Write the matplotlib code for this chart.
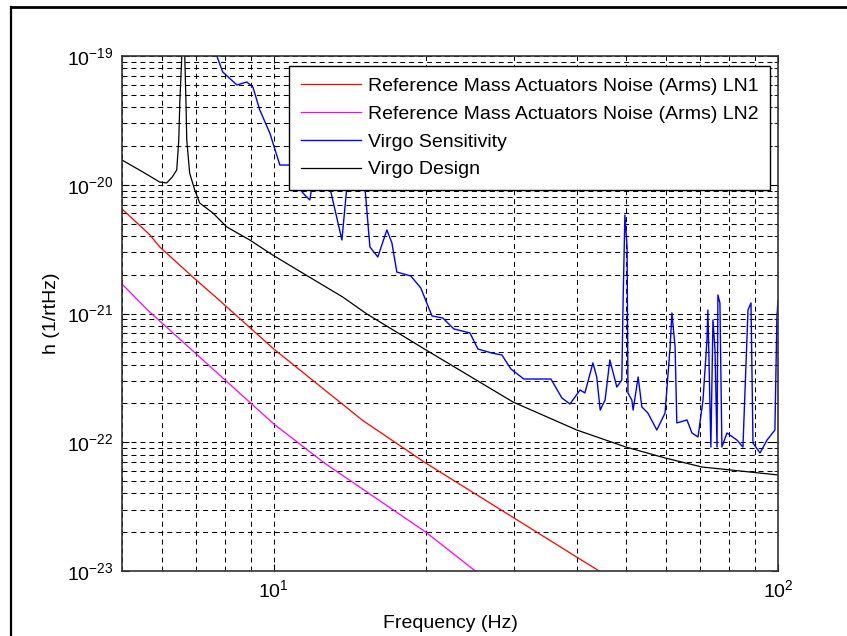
import matplotlib
matplotlib.use("Agg")
import matplotlib.pyplot as plt
import numpy as np
from matplotlib.lines import Line2D
from matplotlib.ticker import LogLocator, LogFormatterSciNotation, NullFormatter

plt.rcParams['font.family'] = ['Liberation Sans', 'DejaVu Sans']
plt.rcParams['mathtext.fontset'] = 'custom'
plt.rcParams['mathtext.rm'] = 'Liberation Sans'
plt.rcParams['mathtext.it'] = 'Liberation Sans:italic'
plt.rcParams['mathtext.bf'] = 'Liberation Sans:bold'

# --- data (frequency in Hz, log10 of h) ---
ln1_freq = [5.0, 5.68, 5.94, 6.91, 7.71, 10.0, 15.0, 20.0, 30.0, 40.0, 44.2, 50.0]
ln1_logh = [-20.188, -20.390, -20.483, -20.717, -20.880, -21.276, -21.83,
            -22.161, -22.59, -22.895, -23.0, -23.13]

ln2_freq = [5.0, 5.62, 10.0, 12.6, 20.0, 25.1, 28.0]
ln2_logh = [-20.771, -20.973, -21.858, -22.161, -22.697, -23.0, -23.15]

sens_freq = [7.60, 7.71, 7.92, 8.45, 8.84, 9.09, 9.38, 9.82, 10.28, 10.76,
             11.16, 11.52, 11.79, 11.90, 12.34, 12.91, 13.65, 13.96, 14.48,
             15.16, 15.51, 16.08, 16.76, 17.15, 17.54, 18.70, 19.57, 20.59,
             21.64, 22.76, 24.49, 25.40, 27.07, 28.34, 29.53, 31.33, 33.72,
             35.45, 37.27, 38.67, 40.5, 41.4, 42.95, 43.7, 44.4, 45.4, 46.4,
             47.9, 49.0, 49.3, 49.7, 50.2, 50.4, 51.3, 51.6, 52.8, 53.7, 55.2,
             57.5, 59.7, 61.1, 61.6, 62.5, 63.0, 66.0, 67.5, 69.4, 71.0, 72.3,
             72.6, 73.6, 74.3, 75.0, 75.7, 76.0, 76.7, 77.4, 79.2, 82.9, 85.2,
             87.2, 88.4, 89.2, 92.1, 95.1, 98.6, 99.5, 100.0]
sens_logh = [-18.915, -19.0, -19.124, -19.225, -19.202, -19.241, -19.419,
             -19.598, -19.847, -19.847, -20.017, -20.080, -20.118, -20.017,
             -19.70, -20.017, -20.429, -20.017, -19.60, -20.017, -20.483,
             -20.561, -20.351, -20.452, -20.678, -20.709, -20.802, -21.019,
             -21.035, -21.120, -21.151, -21.276, -21.307, -21.322, -21.431,
             -21.509, -21.509, -21.509, -21.656, -21.703, -21.594, -21.617,
             -21.384, -21.493, -21.750, -21.672, -21.361, -21.571, -21.517,
             -20.895, -20.235, -20.483, -21.617, -21.672, -21.750, -21.493,
             -21.726, -21.773, -21.905, -21.773, -21.260, -20.996, -21.260,
             -21.850, -21.827, -21.928, -21.959, -21.672, -21.206, -20.973,
             -22.037, -21.050, -21.283, -22.037, -20.856, -20.918, -22.037,
             -21.928, -21.983, -22.037, -20.973, -20.918, -22.006, -22.083,
             -21.983, -21.905, -21.027, -20.9]

design_freq = [5.0, 5.5, 5.94, 6.13, 6.29, 6.42, 6.48, 6.51, 6.57, 6.61, 6.66,
               6.70, 6.72, 6.81, 6.97, 7.13, 7.57, 8.07, 8.96, 9.95, 11.4,
               13.7, 15.3, 19.9, 29.8, 39.9, 49.9, 59.7, 70.6, 100.0]
design_logh = [-19.808, -19.901, -19.979, -19.986, -19.94, -19.885, -19.652,
               -19.365, -19.0, -18.5, -19.0, -19.4, -19.652, -19.909, -20.041,
               -20.142, -20.219, -20.328, -20.429, -20.546, -20.685, -20.872,
               -21.004, -21.276, -21.687, -21.905, -22.037, -22.122, -22.192,
               -22.254]

labels = ['Reference Mass Actuators Noise (Arms) LN1',
          'Reference Mass Actuators Noise (Arms) LN2',
          'Virgo Sensitivity',
          'Virgo Design']

fig = plt.figure(figsize=(8.47, 6.36), dpi=100)
ax = fig.add_axes([0.14404, 0.1022, 0.7745, 0.80975])

ax.loglog(ln1_freq, 10.0 ** np.array(ln1_logh), color='#ff0000', lw=0.9, label=labels[0])
ax.loglog(ln2_freq, 10.0 ** np.array(ln2_logh), color='#ff00ff', lw=0.9, label=labels[1])
ax.loglog(sens_freq, 10.0 ** np.array(sens_logh), color='#0000ff', lw=1.0, label=labels[2])
ax.loglog(design_freq, 10.0 ** np.array(design_logh), color='black', lw=0.9, label=labels[3])

ax.set_xlim(5, 100)
ax.set_ylim(1e-23, 1e-19)

ax.xaxis.set_major_locator(LogLocator(base=10))
ax.xaxis.set_minor_locator(LogLocator(base=10, subs=np.arange(2, 10)))
ax.yaxis.set_major_locator(LogLocator(base=10))
ax.yaxis.set_minor_locator(LogLocator(base=10, subs=np.arange(2, 10), numticks=20))
ax.xaxis.set_minor_formatter(NullFormatter())
ax.yaxis.set_minor_formatter(NullFormatter())
ax.xaxis.set_major_formatter(LogFormatterSciNotation())
ax.yaxis.set_major_formatter(LogFormatterSciNotation())

ax.tick_params(which='both', direction='in', top=True, right=True,
               labelsize=14, pad=6)
ax.tick_params(which='major', length=5)
ax.tick_params(which='minor', length=3)

ax.grid(True, which='both', color='black', lw=0.75, linestyle=(0, (4.8, 3.8)))

for sp in ax.spines.values():
    sp.set_linewidth(1.2)
    sp.set_color('#333333')

ax.set_xlabel('Frequency (Hz)', fontsize=14, labelpad=10)
ax.set_ylabel('h (1/rtHz)', fontsize=14, labelpad=5)

leg = ax.legend(loc='upper right', bbox_to_anchor=(0.9091, 0.8962),
                bbox_transform=fig.transFigure, borderaxespad=0,
                fontsize=14, fancybox=False, framealpha=1,
                handlelength=3.1, handletextpad=0.35, labelspacing=0.52,
                borderpad=0.6)
leg.get_frame().set_edgecolor('black')
leg.get_frame().set_linewidth(1.0)

# outer frame lines (top and left) seen in the reference
fig.add_artist(Line2D([0.013, 1.0], [0.989, 0.989], transform=fig.transFigure,
                      color='black', lw=2.0))
fig.add_artist(Line2D([0.013, 0.013], [0.0, 0.989], transform=fig.transFigure,
                      color='black', lw=1.6))

fig.savefig('out.png', dpi=100)
